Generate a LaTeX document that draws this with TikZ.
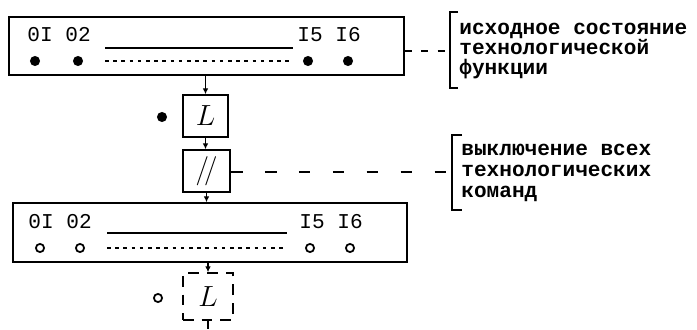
\documentclass[tikz,border=0pt]{standalone}
\usepackage{fontspec}
\newfontfamily\typew{Liberation Mono}
\usetikzlibrary{arrows.meta,calc,positioning}

\begin{document}
\begin{tikzpicture}[x=0.03cm,y=-0.03cm,
  every node/.style={font=\typew\fontsize{18}{16}\selectfont, inner sep=1pt},
  panel/.style={draw, line width=1.4pt, inner sep=0pt},
  unit/.style={draw, line width=1.4pt, inner sep=0pt, font=\fontsize{28}{28}\selectfont},
  link/.style={line width=1.3pt, -{Latex[length=5pt,width=5pt]}},
  lamp/.style={circle, draw, line width=1.5pt, minimum size=7pt, inner sep=0pt},
  rail/.style={line width=1.2pt},
  brace/.style={line width=1.6pt},
  note/.style={anchor=west, align=left, font=\typew\bfseries\fontsize{18}{17}\selectfont}]
  \useasboundingbox (0,0) rectangle (697,329);
  % state before the command
  \node[panel, minimum width=11.85cm, minimum height=1.74cm] (topbox) at (206.5,46) {};
  \node[anchor=west] (topfirst) at (26,35) {0I 02};
  \node[anchor=west] (toplast) at (296,35) {I5 I6};
  \draw[rail] (105,48) -- (293,48);
  \draw[rail, dash pattern=on 3pt off 4pt] (105,61) -- (293,61);
  \node[lamp, fill] (t1) at (35,61) {};
  \node[lamp, fill] (t2) at (78,61) {};
  \node[lamp, fill] (t15) at (308,61) {};
  \node[lamp, fill] (t16) at (348,61) {};
  % commands
  \node[unit, minimum width=1.35cm, minimum height=1.26cm] (Lbox) at (205.5,116) {$L$};
  \node[lamp, fill] (Llamp) at (162,117) {};
  \node[unit, minimum width=1.41cm, minimum height=1.26cm] (offbox) at (206.5,171) {$/\!/$};
  % state after the command
  \node[panel, minimum width=11.82cm, minimum height=1.77cm] (botbox) at (210,232.5) {};
  \node[anchor=west] (botfirst) at (27,222) {0I 02};
  \node[anchor=west] (botlast) at (298,222) {I5 I6};
  \draw[rail] (107,233) -- (287,233);
  \draw[rail, dash pattern=on 3pt off 4pt] (107,248) -- (287,248);
  \node[lamp] (b1) at (40,248) {};
  \node[lamp] (b2) at (80,248) {};
  \node[lamp] (b15) at (310,248) {};
  \node[lamp] (b16) at (350,248) {};
  \node[unit, dash pattern=on 9pt off 7pt, minimum width=1.5cm, minimum height=1.41cm] (Lnext) at (208,296.5) {$L$};
  \node[lamp] (Nlamp) at (158,298) {};
  \coordinate (tail) at (208,329);
  % flow
  \draw[link] (topbox.south -| Lbox.north) -- (Lbox.north);
  \draw[link] (Lbox.south) -- (Lbox.south |- offbox.north);
  \draw[link] (offbox.south) -- (offbox.south |- botbox.north);
  \draw[link] (botbox.south -| Lnext.north) -- (Lnext.north);
  \draw[line width=2pt] (Lnext.south) -- (tail);
  % notes
  \node[note] (note1) at (458,51) {исходное состояние\\технологической\\функции};
  \coordinate (hook1) at (450,51);
  \draw[brace] (458,12) -- (450,12) -- (450,88) -- (458,88);
  \draw[line width=1.4pt, dash pattern=on 6pt off 8pt] (topbox.east |- hook1) -- (hook1);
  \node[note, font=\typew\bfseries\fontsize{18}{18}\selectfont] (note2) at (460,173) {выключение всех\\технологических\\команд};
  \coordinate (hook2) at (452,172);
  \draw[brace] (462,135) -- (452,135) -- (452,210) -- (462,210);
  \draw[line width=1.4pt, dash pattern=on 10pt off 19pt] (offbox.east |- hook2) -- (hook2);
\end{tikzpicture}
\end{document}
